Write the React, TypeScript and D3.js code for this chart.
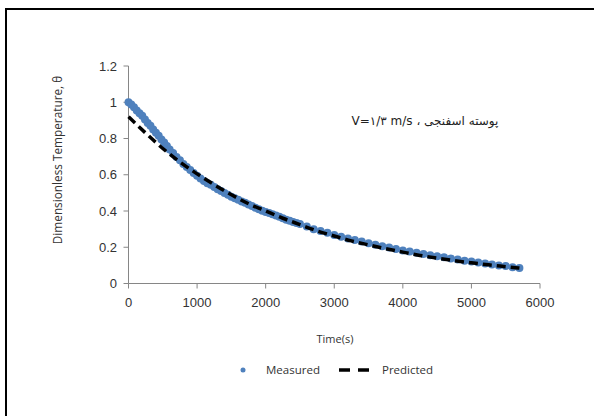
import * as d3 from 'd3';

const measuredTime = [
  0, 40, 80, 120, 160, 200, 240, 280, 320, 360, 400, 440, 480, 520, 560, 600, 650, 700, 750, 800, 850, 900, 950,
  1000, 1050, 1100, 1150, 1200, 1250, 1300, 1350, 1400, 1450, 1500, 1550, 1600, 1650, 1700, 1750, 1800, 1850,
  1900, 1950, 2000, 2050, 2100, 2150, 2200, 2250, 2300, 2350, 2400, 2450, 2500, 2600, 2700, 2800, 2900, 3000,
  3100, 3200, 3300, 3400, 3500, 3600, 3700, 3800, 3900, 4000, 4100, 4200, 4300, 4400, 4500, 4600, 4700, 4800,
  4900, 5000, 5100, 5200, 5300, 5400, 5500, 5600, 5700,
];
const measuredTheta = [
  1.0, 0.988, 0.972, 0.955, 0.94, 0.925, 0.905, 0.885, 0.87, 0.85, 0.832, 0.815, 0.795, 0.778, 0.758, 0.74,
  0.72, 0.698, 0.68, 0.66, 0.643, 0.626, 0.61, 0.595, 0.58, 0.565, 0.553, 0.545, 0.532, 0.52, 0.51, 0.5, 0.49,
  0.478, 0.47, 0.462, 0.453, 0.445, 0.436, 0.428, 0.418, 0.41, 0.402, 0.395, 0.389, 0.382, 0.375, 0.368, 0.36,
  0.352, 0.346, 0.34, 0.334, 0.328, 0.315, 0.3, 0.29, 0.28, 0.268, 0.258, 0.248, 0.24, 0.232, 0.222, 0.214,
  0.205, 0.198, 0.19, 0.182, 0.176, 0.17, 0.163, 0.156, 0.15, 0.145, 0.138, 0.132, 0.126, 0.121, 0.116, 0.11,
  0.105, 0.1, 0.096, 0.09, 0.086,
];

// Predicted curve (s, θ)
const predictedTime = [
  0, 250, 500, 750, 1000, 1250, 1500, 1750, 2000, 2250, 2500, 2750, 3000, 3250, 3500, 3750, 4000, 4250, 4500,
  4750, 5000, 5250, 5500, 5700,
];
const predictedTheta = [
  0.92, 0.83, 0.745, 0.67, 0.605, 0.545, 0.49, 0.44, 0.4, 0.36, 0.325, 0.29, 0.262, 0.235, 0.213, 0.192, 0.173,
  0.155, 0.14, 0.126, 0.114, 0.103, 0.093, 0.085,
];

const xTicks = [0, 1000, 2000, 3000, 4000, 5000, 6000];
const yTicks = [0, 0.2, 0.4, 0.6, 0.8, 1, 1.2];

const W = 594;
const H = 416;
const blue = '#4f81bd';
const axisGrey = '#868686';
const textCol = '#333';
const labelFont = "'Open Sans', sans-serif";

export default function App() {
  const x = d3.scaleLinear().domain([0, 6000]).range([128.5, 540]);
  const y = d3.scaleLinear().domain([0, 1.2]).range([283.5, 66]);

  const measured = measuredTime.map((t, i) => ({ t, v: measuredTheta[i] }));
  const predicted = predictedTime.map((t, i) => ({ t, v: predictedTheta[i] }));

  const line = d3
    .line<{ t: number; v: number }>()
    .x((d) => x(d.t))
    .y((d) => y(d.v))
    .curve(d3.curveMonotoneX);

  return (
    <svg
      width={W}
      height={H}
      style={{ position: 'absolute', left: 0, top: 0, background: '#fff' }}
      fontFamily="'Liberation Sans', Arial, sans-serif"
    >
      <rect x={0} y={0} width={W} height={H} fill="#fff" />
      {/* frame */}
      <rect x={6} y={9} width={800} height={600} fill="none" stroke="#000" strokeWidth={2} />

      {/* axes */}
      <line x1={x(0)} x2={x(6000)} y1={y(0)} y2={y(0)} stroke={axisGrey} strokeWidth={1} />
      <line x1={x(0)} x2={x(0)} y1={y(0)} y2={y(1.2)} stroke={axisGrey} strokeWidth={1} />
      {xTicks.map((t) => (
        <g key={'x' + t}>
          <line x1={x(t)} x2={x(t)} y1={y(0)} y2={y(0) + 5} stroke={axisGrey} />
          <text x={x(t)} y={307} textAnchor="middle" fontSize={13} fill={textCol}>
            {t}
          </text>
        </g>
      ))}
      {yTicks.map((v) => (
        <g key={'y' + v}>
          <line x1={x(0) - 5} x2={x(0)} y1={y(v)} y2={y(v)} stroke={axisGrey} />
          <text x={117} y={y(v) + 4.5} textAnchor="end" fontSize={13} fill={textCol}>
            {d3.format('')(v)}
          </text>
        </g>
      ))}

      {/* measured points */}
      {measured.map((d, i) => (
        <circle key={i} cx={x(d.t)} cy={y(d.v)} r={4} fill={blue} />
      ))}

      {/* predicted dashed */}
      <path
        d={line(predicted) || ''}
        fill="none"
        stroke="#000"
        strokeWidth={3.5}
        strokeDasharray="9,5"
      />

      {/* annotation */}
      <text
        x={425}
        y={125}
        textAnchor="middle"
        direction="rtl"
        fontSize={12}
        fill="#222"
        fontFamily="'DejaVu Sans', sans-serif"
      >
        پوسته اسفنجی ، V=۱/۳ m/s
      </text>

      {/* axis titles */}
      <text
        transform="translate(62,160) rotate(-90)"
        textAnchor="middle"
        fontSize={11.8}
        fill={textCol}
        fontFamily={labelFont}
      >
        Dimensionless Temperature, θ
      </text>
      <text x={335} y={343} textAnchor="middle" fontSize={11} fill={textCol} fontFamily={labelFont}>
        Time(s)
      </text>

      {/* legend */}
      <circle cx={243} cy={370} r={2.5} fill={blue} />
      <text x={266} y={374} fontSize={11.5} fill={textCol} fontFamily={labelFont}>
        Measured
      </text>
      <line x1={339} x2={369} y1={370} y2={370} stroke="#000" strokeWidth={3.5} strokeDasharray="11,8" />
      <text x={382} y={374} fontSize={11.5} fill={textCol} fontFamily={labelFont}>
        Predicted
      </text>
    </svg>
  );
}
